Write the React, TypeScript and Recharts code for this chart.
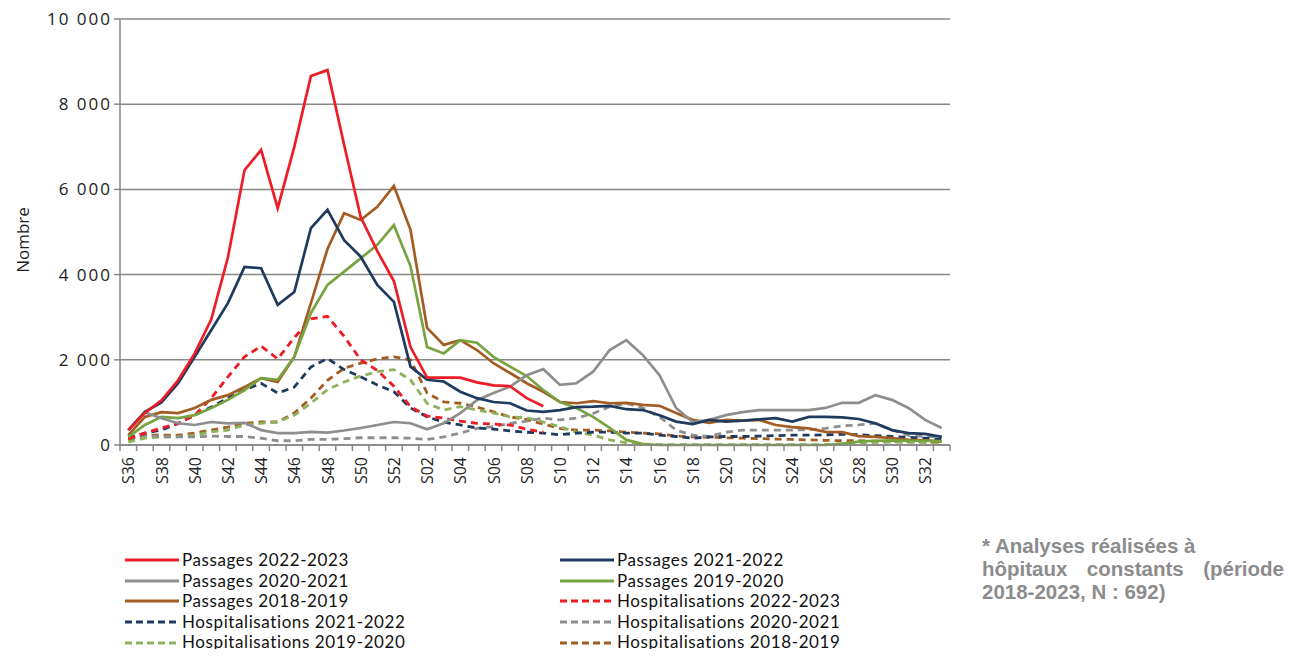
import { CartesianGrid, Line, LineChart, XAxis, YAxis } from 'recharts';

const weeks = [
  'S36', 'S37', 'S38', 'S39', 'S40', 'S41', 'S42', 'S43', 'S44', 'S45', 'S46', 'S47', 'S48', 'S49', 'S50', 'S51', 'S52',
  'S01', 'S02', 'S03', 'S04', 'S05', 'S06', 'S07', 'S08', 'S09', 'S10', 'S11', 'S12', 'S13', 'S14', 'S15', 'S16', 'S17',
  'S18', 'S19', 'S20', 'S21', 'S22', 'S23', 'S24', 'S25', 'S26', 'S27', 'S28', 'S29', 'S30', 'S31', 'S32', 'S33',
];

const yTicks = [0, 2000, 4000, 6000, 8000, 10000];

// passages aux urgences
const pass2223 = [350, 750, 1050, 1520, 2150, 2950, 4400, 6450, 6930, 5560, 7000, 8660, 8800, 7050, 5350, 4550, 3850, 2300, 1580, 1580, 1580, 1470, 1400, 1380, 1100, 910];
const pass2122 = [350, 780, 1000, 1450, 2070, 2700, 3330, 4180, 4150, 3290, 3590, 5090, 5520, 4810, 4420, 3760, 3360, 1840, 1530, 1490, 1250, 1100, 1010, 980, 810, 780, 820, 890, 900, 920, 840, 820, 700, 550, 490, 590, 550, 570, 600, 630, 550, 660, 660, 650, 610, 510, 350, 280, 260, 190];
const pass2021 = [350, 770, 630, 510, 470, 540, 510, 520, 350, 280, 280, 310, 290, 340, 400, 470, 540, 510, 370, 510, 750, 1050, 1220, 1370, 1640, 1780, 1410, 1450, 1720, 2230, 2460, 2110, 1640, 870, 540, 590, 700, 770, 820, 820, 820, 820, 870, 990, 990, 1170, 1060, 870, 590, 400];
const pass1920 = [190, 470, 660, 630, 700, 870, 1060, 1290, 1570, 1530, 2070, 3100, 3760, 4070, 4380, 4700, 5160, 4200, 2300, 2150, 2460, 2400, 2070, 1840, 1620, 1290, 1010, 870, 660, 400, 120, 20, 0, 0, 0, 0, 0, 0, 0, 0, 0, 0, 0, 30, 80, 100, 110, 100, 100, 90];
const pass1819 = [230, 660, 770, 750, 870, 1060, 1170, 1360, 1570, 1480, 2070, 3330, 4600, 5440, 5280, 5590, 6080, 5050, 2750, 2350, 2460, 2230, 1920, 1690, 1450, 1250, 1010, 980, 1030, 980, 990, 940, 920, 750, 590, 520, 590, 570, 590, 470, 420, 390, 310, 300, 210, 190, 160, 120, 110, 80];

// hospitalisations après passage
const hosp2223 = [150, 280, 400, 500, 700, 1100, 1600, 2070, 2320, 2020, 2520, 2960, 3020, 2550, 2000, 1750, 1380, 900, 680, 630, 560, 510, 490, 470, 370, 300];
const hosp2122 = [160, 280, 350, 510, 700, 890, 1100, 1290, 1450, 1220, 1360, 1830, 2030, 1770, 1600, 1410, 1250, 870, 660, 540, 470, 400, 375, 330, 300, 280, 240, 280, 300, 300, 280, 280, 230, 200, 160, 190, 200, 200, 210, 220, 230, 230, 240, 250, 240, 220, 200, 180, 160, 130];
const hosp2021 = [160, 230, 190, 190, 190, 210, 200, 200, 160, 100, 100, 130, 130, 150, 170, 170, 170, 160, 130, 190, 280, 390, 430, 510, 560, 630, 590, 630, 740, 900, 980, 870, 660, 350, 230, 200, 300, 350, 350, 350, 350, 360, 390, 450, 470, 510, 350, 230, 200, 190];
const hosp1920 = [70, 160, 190, 190, 230, 310, 350, 470, 510, 540, 700, 980, 1300, 1480, 1620, 1720, 1770, 1530, 980, 820, 900, 820, 750, 660, 640, 540, 430, 300, 230, 120, 50, 20, 10, 10, 10, 10, 10, 10, 10, 10, 10, 10, 10, 30, 50, 60, 70, 60, 60, 50];
const hosp1819 = [120, 230, 230, 230, 280, 350, 420, 510, 540, 540, 750, 1100, 1520, 1800, 1920, 2020, 2070, 2000, 1220, 1010, 980, 890, 780, 660, 600, 490, 390, 350, 350, 330, 300, 280, 260, 210, 190, 180, 170, 160, 150, 140, 130, 120, 110, 100, 100, 90, 80, 80, 70, 70];

const series = [
  { key: 'pass2223', name: 'Passages 2022-2023', values: pass2223, color: '#ee1c24', dashed: false },
  { key: 'pass2122', name: 'Passages 2021-2022', values: pass2122, color: '#1f3a5f', dashed: false },
  { key: 'pass2021', name: 'Passages 2020-2021', values: pass2021, color: '#8e8e8e', dashed: false },
  { key: 'pass1920', name: 'Passages 2019-2020', values: pass1920, color: '#77a341', dashed: false },
  { key: 'pass1819', name: 'Passages 2018-2019', values: pass1819, color: '#a35c22', dashed: false },
  { key: 'hosp2223', name: 'Hospitalisations 2022-2023', values: hosp2223, color: '#ee1c24', dashed: true },
  { key: 'hosp2122', name: 'Hospitalisations 2021-2022', values: hosp2122, color: '#1f3a5f', dashed: true },
  { key: 'hosp2021', name: 'Hospitalisations 2020-2021', values: hosp2021, color: '#8e8e8e', dashed: true },
  { key: 'hosp1920', name: 'Hospitalisations 2019-2020', values: hosp1920, color: '#8fb35c', dashed: true },
  { key: 'hosp1819', name: 'Hospitalisations 2018-2019', values: hosp1819, color: '#a35c22', dashed: true },
];

const data = weeks.map((week, i) => {
  const row: Record<string, string | number | null> = { week };
  series.forEach((s) => {
    row[s.key] = i < s.values.length ? s.values[i] : null;
  });
  return row;
});

const W = 1278;
const H = 641;
const LEFT = 112;
const RIGHT = 336;
const STEP = (W - LEFT - RIGHT) / weeks.length;
const AXIS = '#878787';
const FONT = '"Open Sans", "Noto Sans", sans-serif';

const fmt = (v: number) => String(v).replace(/\B(?=(\d{3})+(?!\d))/g, ' ');

const WeekTick = (props: any) => {
  const { x, y, payload, index } = props;
  const half = STEP / 2;
  return (
    <g>
      <line x1={x - half} y1={y} x2={x - half} y2={y + 6} stroke={AXIS} strokeWidth={1.5} />
      {index === weeks.length - 1 && (
        <line x1={x + half} y1={y} x2={x + half} y2={y + 6} stroke={AXIS} strokeWidth={1.5} />
      )}
      {index % 2 === 0 && (
        <text
          transform={`translate(${x},${y + 12}) rotate(-90)`}
          textAnchor="end"
          dominantBaseline="central"
          fontSize={16}
          fontFamily={FONT}
          fill="#222"
        >
          {payload.value}
        </text>
      )}
    </g>
  );
};

const LegendItem = ({ name, color, dashed }: { name: string; color: string; dashed: boolean }) => (
  <div style={{ display: 'flex', alignItems: 'center', height: 20.6 }}>
    <svg width={55} height={6} style={{ marginRight: 2 }}>
      <line x1={0} y1={3} x2={54} y2={3} stroke={color} strokeWidth={3} strokeDasharray={dashed ? '7 4' : undefined} />
    </svg>
    <span>{name}</span>
  </div>
);

export default function App() {
  const drawOrder = [...series].reverse();
  return (
    <div style={{ position: 'relative', width: W, height: H, fontFamily: FONT }}>
      <LineChart width={W} height={H} data={data} margin={{ top: 11, right: RIGHT, bottom: 0, left: 0 }}>
        <CartesianGrid vertical={false} stroke={AXIS} strokeWidth={1.5} />
        <XAxis
          dataKey="week"
          scale="point"
          padding={{ left: STEP / 2, right: STEP / 2 }}
          interval={0}
          height={204}
          tickSize={0}
          tickMargin={0}
          tickLine={false}
          axisLine={{ stroke: AXIS, strokeWidth: 1.5 }}
          tick={<WeekTick />}
        />
        <YAxis
          width={LEFT}
          domain={[0, 10000]}
          ticks={yTicks}
          tickFormatter={fmt}
          tickSize={6}
          tickMargin={2}
          axisLine={{ stroke: AXIS, strokeWidth: 1.5 }}
          tickLine={{ stroke: AXIS, strokeWidth: 1.5 }}
          tick={{ fill: '#222', fontSize: 17, fontFamily: FONT, letterSpacing: 2 }}
        />
        {drawOrder.map((s) => (
          <Line
            key={s.key}
            type="linear"
            dataKey={s.key}
            name={s.name}
            stroke={s.color}
            strokeWidth={s.dashed ? 2.8 : 2.7}
            strokeDasharray={s.dashed ? '7 5' : undefined}
            dot={false}
            activeDot={false}
            connectNulls={false}
            isAnimationActive={false}
          />
        ))}
      </LineChart>

      <div
        style={{
          position: 'absolute',
          left: 14,
          top: 232,
          transform: 'translate(-50%, -50%) rotate(-90deg)',
          fontSize: 17,
          color: '#222',
          whiteSpace: 'nowrap',
        }}
      >
        Nombre
      </div>

      <div
        style={{
          position: 'absolute',
          left: 117,
          top: 542,
          display: 'grid',
          gridTemplateColumns: '435px 300px',
          fontFamily: 'Lato, "Open Sans", sans-serif',
          fontSize: 17,
          letterSpacing: 0.6,
          color: '#111',
          lineHeight: '20.6px',
        }}
      >
        {series.map((s) => (
          <LegendItem key={s.key} name={s.name} color={s.color} dashed={s.dashed} />
        ))}
      </div>

      <div
        style={{
          position: 'absolute',
          left: 974,
          top: 526,
          width: 302,
          fontFamily: '"Liberation Sans", Arial, sans-serif',
          fontWeight: 'bold',
          fontSize: 20.5,
          lineHeight: '23px',
          color: '#8c8c8c',
        }}
      >
        <div>* Analyses réalisées à</div>
        <div style={{ display: 'flex', justifyContent: 'space-between', whiteSpace: 'nowrap' }}>
          <span>hôpitaux</span>
          <span>constants</span>
          <span>(période</span>
        </div>
        <div>2018-2023, N : 692)</div>
      </div>
    </div>
  );
}
